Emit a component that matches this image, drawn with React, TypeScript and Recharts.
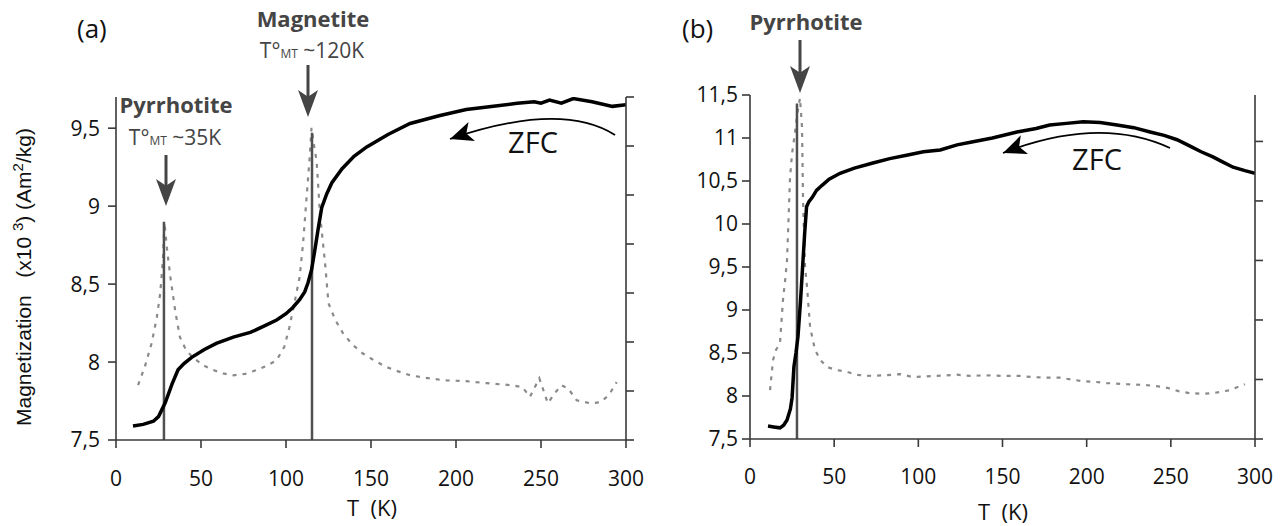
import React from 'react';
import { LineChart, Line, XAxis, YAxis, ReferenceLine } from 'recharts';

// ---------- Panel (a) ----------
const tempA = [10, 16, 22, 25, 29, 33, 36.5, 40, 44.5, 52, 59, 69, 79, 87, 94.5, 100, 104, 108, 111, 113, 115, 117, 119, 121, 124, 127, 133, 140, 147.5, 160, 173, 190, 206, 222, 236, 246, 250, 255, 262, 269, 280, 292, 300];
const magA = [7.59, 7.6, 7.62, 7.65, 7.74, 7.86, 7.95, 7.99, 8.03, 8.08, 8.12, 8.16, 8.19, 8.23, 8.27, 8.31, 8.35, 8.4, 8.45, 8.51, 8.59, 8.72, 8.86, 8.99, 9.08, 9.15, 9.24, 9.32, 9.38, 9.46, 9.53, 9.58, 9.62, 9.64, 9.66, 9.67, 9.66, 9.68, 9.66, 9.69, 9.67, 9.64, 9.65];

const dTempA = [13, 17, 21, 24, 26, 27.6, 28.5, 30, 32, 35, 37.6, 41, 45, 51, 57, 63, 69, 76, 83, 89, 94.5, 99, 102, 105, 108, 110, 112, 114, 115, 117, 118, 120, 123, 125, 129, 133.5, 139, 145, 152, 159, 166, 173, 182, 192.5, 206, 218, 232, 239, 243.5, 249, 254, 258, 262, 266, 271, 279, 285, 290, 294.5];
const derivA = [1.12, 1.5, 1.98, 2.5, 2.99, 3.67, 4.44, 3.9, 3.32, 2.6, 2.1, 1.85, 1.69, 1.53, 1.43, 1.36, 1.32, 1.35, 1.43, 1.52, 1.63, 1.9, 2.3, 2.8, 3.32, 4.0, 4.9, 5.8, 6.37, 5.9, 5.7, 4.6, 3.6, 2.79, 2.45, 2.18, 1.95, 1.77, 1.62, 1.49, 1.4, 1.32, 1.27, 1.22, 1.2, 1.16, 1.12, 1.08, 0.88, 1.26, 0.75, 0.95, 1.12, 1.05, 0.81, 0.75, 0.77, 0.92, 1.18];

// transitions marked in (a): [T, top of marker line]
const markersA = [
  { t: 28.2, top: 8.9 },
  { t: 115.3, top: 9.47 },
];

// ---------- Panel (b) ----------
const tempB = [10.7, 14, 17.8, 20, 22, 24, 25, 26.1, 27.3, 28.5, 30, 31.5, 32.5, 33.6, 35, 37, 39.5, 42.8, 47, 53.5, 62, 73, 83, 93, 103, 113, 123, 131, 144, 158.6, 170, 178, 188, 198, 208, 218, 228, 237.7, 246, 253.7, 262, 268, 275, 281, 287, 294, 300];
const magB = [7.65, 7.64, 7.63, 7.66, 7.72, 7.85, 7.98, 8.34, 8.5, 8.69, 9.1, 9.58, 9.9, 10.2, 10.26, 10.31, 10.39, 10.45, 10.52, 10.59, 10.65, 10.71, 10.76, 10.8, 10.84, 10.86, 10.92, 10.95, 11.0, 11.07, 11.11, 11.15, 11.17, 11.19, 11.18, 11.15, 11.12, 11.07, 11.03, 10.98, 10.9, 10.84, 10.78, 10.72, 10.66, 10.62, 10.59];

const dTempB = [11.9, 13.7, 15.5, 17.8, 19.6, 21, 22, 23.8, 25, 26.7, 28, 29.7, 30.9, 31.5, 32.7, 33.9, 35.7, 38.6, 42, 45.8, 51, 57.6, 63, 69.5, 80, 89, 97, 110, 123, 131, 140, 150, 160, 168, 176, 184, 191, 198, 205, 212, 224, 233.5, 241, 247.8, 255, 261.4, 268, 275, 285, 294];
const derivB = [0.82, 1.33, 1.5, 1.61, 2.34, 2.7, 3.01, 4.4, 4.8, 5.14, 5.45, 5.73, 5.24, 4.02, 2.89, 2.55, 1.88, 1.5, 1.32, 1.21, 1.16, 1.13, 1.08, 1.06, 1.07, 1.09, 1.04, 1.06, 1.08, 1.06, 1.07, 1.06, 1.06, 1.04, 1.03, 1.03, 1.0, 0.97, 0.96, 0.94, 0.92, 0.91, 0.89, 0.86, 0.8, 0.77, 0.76, 0.77, 0.82, 0.92];

const markersB = [{ t: 27.9, top: 11.4 }];

// ---------- ticks ----------
const xTicks = [0, 50, 100, 150, 200, 250, 300];
const yTicksA = [7.5, 8, 8.5, 9, 9.5];
const yTicksB = [7.5, 8, 8.5, 9, 9.5, 10, 10.5, 11, 11.5];
const rTicksA = [0, 1, 2, 3, 4, 5, 6, 7];
const rTicksB = [0, 1, 2, 3, 4, 5];

const zip = (xs: number[], ys: number[]) => xs.map((t, i) => ({ t, v: ys[i] }));

const AXIS = '#3a3a3a';
const TICKFONT = { fill: '#111', fontSize: 21, fontFamily: 'Open Sans' };
const comma = (v: number) => String(v).replace('.', ',');
const ANN = '#454545';

function arrowHead(tipX: number, tipY: number, fromX: number, fromY: number, len = 22, half = 9) {
  const dx = tipX - fromX, dy = tipY - fromY;
  const L = Math.hypot(dx, dy);
  const ux = dx / L, uy = dy / L;
  const bx = tipX - ux * len, by = tipY - uy * len;
  const px = -uy * half, py = ux * half;
  const nx = tipX - ux * len * 0.75, ny = tipY - uy * len * 0.75;
  return `M${tipX},${tipY} L${bx + px},${by + py} L${nx},${ny} L${bx - px},${by - py} Z`;
}

function DownArrow({ x, y1, y2, color }: { x: number; y1: number; y2: number; color: string }) {
  return (
    <g>
      <line x1={x} y1={y1} x2={x} y2={y2 - 12} stroke={color} strokeWidth={3} />
      <path d={arrowHead(x, y2, x, y1, 27, 10)} fill={color} />
    </g>
  );
}

function Panel({
  width, top, right, yLeftW, yRightW, xH, yDomain, yTicks, rDomain, rTicks, solid, dotted, markers, tickSize, yTickMargin, xTickMargin,
}: any) {
  return (
    <LineChart width={width} height={526} margin={{ top, right, bottom: 0, left: 0 }}>
      <XAxis
        type="number"
        dataKey="t"
        domain={[0, 300]}
        ticks={xTicks}
        height={xH}
        tickSize={tickSize}
        tickMargin={xTickMargin}
        axisLine={{ stroke: AXIS, strokeWidth: 1.6 }}
        tickLine={{ stroke: AXIS, strokeWidth: 1.6 }}
        tick={TICKFONT}
        interval={0}
        allowDataOverflow
      />
      <YAxis
        yAxisId="left"
        type="number"
        domain={yDomain}
        ticks={yTicks}
        width={yLeftW}
        tickSize={tickSize}
        tickMargin={yTickMargin}
        tickFormatter={comma}
        axisLine={{ stroke: AXIS, strokeWidth: 1.6 }}
        tickLine={{ stroke: AXIS, strokeWidth: 1.6 }}
        tick={TICKFONT}
        interval={0}
        allowDataOverflow
      />
      <YAxis
        yAxisId="right"
        orientation="right"
        type="number"
        domain={rDomain}
        ticks={rTicks}
        width={yRightW}
        tickSize={tickSize}
        tickFormatter={() => ''}
        axisLine={{ stroke: AXIS, strokeWidth: 1.6 }}
        tickLine={{ stroke: AXIS, strokeWidth: 1.6 }}
        interval={0}
        allowDataOverflow
      />
      <Line
        yAxisId="right"
        data={dotted}
        dataKey="v"
        type="linear"
        stroke="#8a8a8a"
        strokeWidth={2.2}
        strokeDasharray="4 6"
        dot={false}
        isAnimationActive={false}
      />
      {markers.map((m: any, i: number) => (
        <ReferenceLine
          key={i}
          yAxisId="left"
          segment={[{ x: m.t, y: yDomain[0] }, { x: m.t, y: m.top }]}
          stroke="#505050"
          strokeWidth={2.5}
        />
      ))}
      <Line
        yAxisId="left"
        data={solid}
        dataKey="v"
        type="linear"
        stroke="#000"
        strokeWidth={3.5}
        dot={false}
        isAnimationActive={false}
      />
    </LineChart>
  );
}

function Overlay() {
  const f = 'Open Sans';
  // ZFC arcs: start, control, tip
  const arcA = { sx: 615, sy: 135, cx: 561, cy: 101, tx: 450, ty: 139 };
  const arcB = { sx: 1170, sy: 148, cx: 1099.5, cy: 115.5, tx: 1003, ty: 153 };
  return (
    <svg width={1283} height={526} style={{ position: 'absolute', left: 0, top: 0, pointerEvents: 'none' }}>
      <text x={77} y={38} fontFamily={f} fontSize={26} fill="#111">(a)</text>
      <text x={682} y={38} fontFamily={f} fontSize={26} fill="#111">(b)</text>

      <text
        transform="translate(31,277) rotate(-90)"
        textAnchor="middle"
        fontFamily="Liberation Sans, Arial"
        fontSize={21}
        fill="#111"
      >
        {'Magnetization\u00a0\u00a0 (x10 '}
        <tspan dy={-8} fontSize={15}>3</tspan>
        <tspan dy={8}>{') (Am'}</tspan>
        <tspan dy={-8} fontSize={15}>2</tspan>
        <tspan dy={8}>/kg)</tspan>
      </text>

      <text x={372} y={516} textAnchor="middle" fontFamily={f} fontSize={22} fill="#111">{'T\u00a0 (K)'}</text>
      <text x={1003} y={520} textAnchor="middle" fontFamily={f} fontSize={22} fill="#111">{'T\u00a0 (K)'}</text>

      {/* Magnetite annotation */}
      <text x={313} y={27} textAnchor="middle" fontFamily={f} fontWeight={700} fontSize={22} fill={ANN}>Magnetite</text>
      <text x={312} y={58} textAnchor="middle" fontFamily={f} fontSize={21} fill={ANN}>
        T°<tspan fontSize={12}>MT</tspan> ~120K
      </text>
      <DownArrow x={308} y1={65} y2={117} color={ANN} />

      {/* Pyrrhotite (a) */}
      <text x={176} y={113} textAnchor="middle" fontFamily={f} fontWeight={700} fontSize={22} fill={ANN}>Pyrrhotite</text>
      <text x={175} y={145} textAnchor="middle" fontFamily={f} fontSize={21} fill={ANN}>
        T°<tspan fontSize={12}>MT</tspan> ~35K
      </text>
      <DownArrow x={166} y1={155} y2={206} color={ANN} />

      {/* Pyrrhotite (b) */}
      <text x={806} y={30} textAnchor="middle" fontFamily={f} fontWeight={700} fontSize={22} fill={ANN}>Pyrrhotite</text>
      <DownArrow x={800} y1={40} y2={93} color={ANN} />

      {/* ZFC arrows */}
      {[arcA, arcB].map((a, i) => (
        <g key={i}>
          <path d={`M${a.sx},${a.sy} Q${a.cx},${a.cy} ${a.tx},${a.ty}`} fill="none" stroke="#000" strokeWidth={1.8} />
          <path d={arrowHead(a.tx, a.ty, a.cx, a.cy, 23, 10)} fill="#000" />
        </g>
      ))}
      <text x={533} y={153} textAnchor="middle" fontFamily={f} fontSize={29} fill="#111">ZFC</text>
      <text x={1097} y={170} textAnchor="middle" fontFamily={f} fontSize={29} fill="#111">ZFC</text>
    </svg>
  );
}

export default function App() {
  return (
    <div style={{ position: 'absolute', left: 0, top: 0, width: 1283, height: 526, background: '#fff' }}>
      <div style={{ position: 'absolute', left: 0, top: 0 }}>
        <Panel
          width={660}
          top={97}
          right={20}
          yLeftW={116}
          yRightW={14}
          xH={86}
          yDomain={[7.5, 9.7]}
          yTicks={yTicksA}
          rDomain={[0, 7]}
          rTicks={rTicksA}
          solid={zip(tempA, magA)}
          dotted={zip(dTempA, derivA)}
          markers={markersA}
          tickSize={8}
          yTickMargin={8}
          xTickMargin={23}
        />
      </div>
      <div style={{ position: 'absolute', left: 640, top: 0 }}>
        <Panel
          width={643}
          top={95}
          right={0}
          yLeftW={110}
          yRightW={28}
          xH={87}
          yDomain={[7.5, 11.5]}
          yTicks={yTicksB}
          rDomain={[0, 5.78]}
          rTicks={rTicksB}
          solid={zip(tempB, magB)}
          dotted={zip(dTempB, derivB)}
          markers={markersB}
          tickSize={8}
          yTickMargin={4}
          xTickMargin={22}
        />
      </div>
      <Overlay />
    </div>
  );
}
